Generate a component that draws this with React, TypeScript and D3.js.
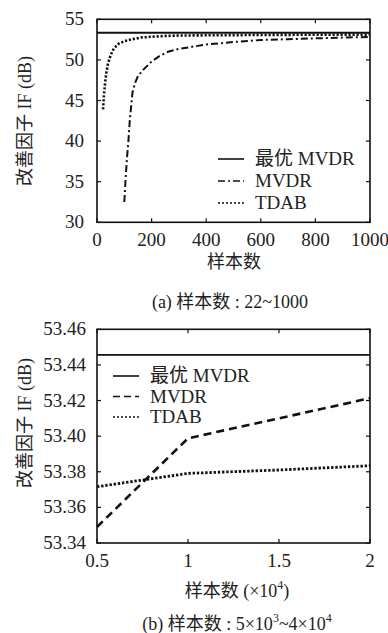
import React from "react";
import * as d3 from "d3";

// (a) sample count 22~1000
const tdabA_x = [22, 25, 30, 35, 40, 50, 60, 70, 80, 100, 130, 160, 200, 250, 300, 400, 600, 800, 1000];
const tdabA_y = [43.9, 45.5, 47.3, 48.6, 49.5, 50.6, 51.3, 51.7, 52.0, 52.3, 52.55, 52.75, 52.85, 52.95, 53.0, 53.03, 53.07, 53.1, 53.12];
const mvdrA_x = [100, 105, 110, 115, 120, 130, 140, 150, 170, 200, 230, 260, 300, 400, 500, 600, 700, 800, 900, 1000];
const mvdrA_y = [32.5, 35.5, 38.0, 40.0, 42.5, 46.0, 47.2, 48.0, 48.8, 49.8, 50.5, 51.0, 51.35, 51.9, 52.2, 52.45, 52.55, 52.65, 52.75, 52.82];
const optA = 53.33;
const xTicksA = [0, 200, 400, 600, 800, 1000];
const yTicksA = [30, 35, 40, 45, 50, 55];

// (b) sample count (x10^4)
const xB = [0.5, 1, 1.5, 2];
const mvdrB = [53.349, 53.3988, 53.41, 53.4213];
const tdabB = [53.3716, 53.3791, 53.381, 53.3834];
const optB = 53.4456;
const xTicksB = [0.5, 1, 1.5, 2];
const yTicksB = [53.34, 53.36, 53.38, 53.4, 53.42, 53.44, 53.46];

const LATIN = "\"Liberation Serif\", \"Times New Roman\", serif";
const MIXED = "\"Liberation Serif\", \"Noto Sans CJK SC\", serif";

type Pt = [number, number];

function Frame({ x, y, xTicks, yTicks, xFmt, yFmt, yLabelRight }: any) {
  const [x0, x1] = x.range();
  const [y0, y1] = y.range();
  return (
    <g>
      <rect x={x0} y={y1} width={x1 - x0} height={y0 - y1} fill="none" stroke="#111" strokeWidth={1.6} />
      {xTicks.map((t: number) => (
        <g key={"x" + t}>
          <line x1={x(t)} x2={x(t)} y1={y0} y2={y0 - 4} stroke="#111" strokeWidth={1.2} />
          <line x1={x(t)} x2={x(t)} y1={y1} y2={y1 + 4} stroke="#111" strokeWidth={1.2} />
          <text x={x(t)} y={y0 + 24} style={{ fontFamily: LATIN, fontSize: 19 }} textAnchor="middle" fill="#222">{xFmt(t)}</text>
        </g>
      ))}
      {yTicks.map((t: number) => (
        <g key={"y" + t}>
          <line x1={x0} x2={x0 + 4} y1={y(t)} y2={y(t)} stroke="#111" strokeWidth={1.2} />
          <line x1={x1} x2={x1 - 4} y1={y(t)} y2={y(t)} stroke="#111" strokeWidth={1.2} />
          <text x={yLabelRight} y={y(t) + 6} style={{ fontFamily: LATIN, fontSize: 19 }} textAnchor="end" fill="#222">{yFmt(t)}</text>
        </g>
      ))}
    </g>
  );
}

function Legend({ x, y, gap, items }: any) {
  return (
    <g>
      {items.map((it: any, i: number) => (
        <g key={it.label} transform={`translate(${x},${y + i * gap})`}>
          <line x1={0} x2={26} y1={0} y2={0} stroke="#111" strokeWidth={it.w} strokeDasharray={it.dash} />
          <text x={37} y={6} style={{ fontFamily: MIXED, fontSize: 19 }} fill="#222">{it.label}</text>
        </g>
      ))}
    </g>
  );
}

export default function App() {
  const xA = d3.scaleLinear().domain([0, 1000]).range([97, 370]);
  const yA = d3.scaleLinear().domain([30, 55]).range([222.3, 19.3]);
  const xBs = d3.scaleLinear().domain([0.5, 2]).range([97, 370]);
  const yBs = d3.scaleLinear().domain([53.34, 53.46]).range([543, 329.3]);

  const lineA = d3.line<Pt>().x((d) => xA(d[0])).y((d) => yA(d[1]));
  const lineB = d3.line<Pt>().x((d) => xBs(d[0])).y((d) => yBs(d[1]));

  const tdabA: Pt[] = tdabA_x.map((v, i) => [v, tdabA_y[i]]);
  const mvdrA: Pt[] = mvdrA_x.map((v, i) => [v, mvdrA_y[i]]);
  const mvdrBp: Pt[] = xB.map((v, i) => [v, mvdrB[i]]);
  const tdabBp: Pt[] = xB.map((v, i) => [v, tdabB[i]]);

  const txt = { fontFamily: MIXED, fontSize: 18 };

  return (
    <svg width={388} height={633} style={{ position: "absolute", left: 0, top: 0, background: "#fff" }}>
      <defs>
        <clipPath id="clipA"><rect x={97} y={19.3} width={273} height={203} /></clipPath>
      </defs>
      {/* (a) */}
      <g clipPath="url(#clipA)">
        <line x1={xA(0)} x2={xA(1000)} y1={yA(optA)} y2={yA(optA)} stroke="#111" strokeWidth={2} />
        <path d={lineA(mvdrA) || ""} fill="none" stroke="#111" strokeWidth={2} strokeDasharray="7,3,2,3" />
        <path d={lineA(tdabA) || ""} fill="none" stroke="#111" strokeWidth={2.6} strokeDasharray="2.2,1.8" />
      </g>
      <Frame x={xA} y={yA} xTicks={xTicksA} yTicks={yTicksA} xFmt={(t: number) => String(t)} yFmt={(t: number) => String(t)} yLabelRight={84} />
      <Legend x={218} y={159} gap={22} items={[
        { label: "最优 MVDR", w: 1.6, dash: "" },
        { label: "MVDR", w: 1.6, dash: "7,3,2,3" },
        { label: "TDAB", w: 1.6, dash: "2,2" },
      ]} />
      <text transform="translate(31,121) rotate(-90)" style={txt} textAnchor="middle" fill="#222">改善因子 IF (dB)</text>
      <text x={234} y={268} style={txt} textAnchor="middle" fill="#222">样本数</text>
      <text x={230} y={308} style={txt} textAnchor="middle" fill="#222">(a) 样本数 : 22~1000</text>

      {/* (b) */}
      <line x1={xBs(0.5)} x2={xBs(2)} y1={yBs(optB)} y2={yBs(optB)} stroke="#111" strokeWidth={1.8} />
      <path d={lineB(mvdrBp) || ""} fill="none" stroke="#111" strokeWidth={2.6} strokeDasharray="8,5" />
      <path d={lineB(tdabBp) || ""} fill="none" stroke="#111" strokeWidth={2.8} strokeDasharray="2.4,1.8" />
      <Frame x={xBs} y={yBs} xTicks={xTicksB} yTicks={yTicksB} xFmt={(t: number) => String(t)} yFmt={(t: number) => t.toFixed(2)} yLabelRight={86} />
      <Legend x={113} y={376} gap={20.5} items={[
        { label: "最优 MVDR", w: 1.6, dash: "" },
        { label: "MVDR", w: 1.6, dash: "7,4" },
        { label: "TDAB", w: 1.6, dash: "2,2" },
      ]} />
      <text transform="translate(31,423) rotate(-90)" style={txt} textAnchor="middle" fill="#222">改善因子 IF (dB)</text>
      <text x={237} y={597} style={txt} textAnchor="middle" fill="#222">
        样本数 (×10<tspan fontSize={12} dy={-8}>4</tspan><tspan dy={8}>)</tspan>
      </text>
      <text x={237} y={630} style={txt} textAnchor="middle" fill="#222">
        (b) 样本数 : 5×10<tspan fontSize={12} dy={-8}>3</tspan><tspan dy={8}>~4×10</tspan><tspan fontSize={12} dy={-8}>4</tspan>
      </text>
    </svg>
  );
}
